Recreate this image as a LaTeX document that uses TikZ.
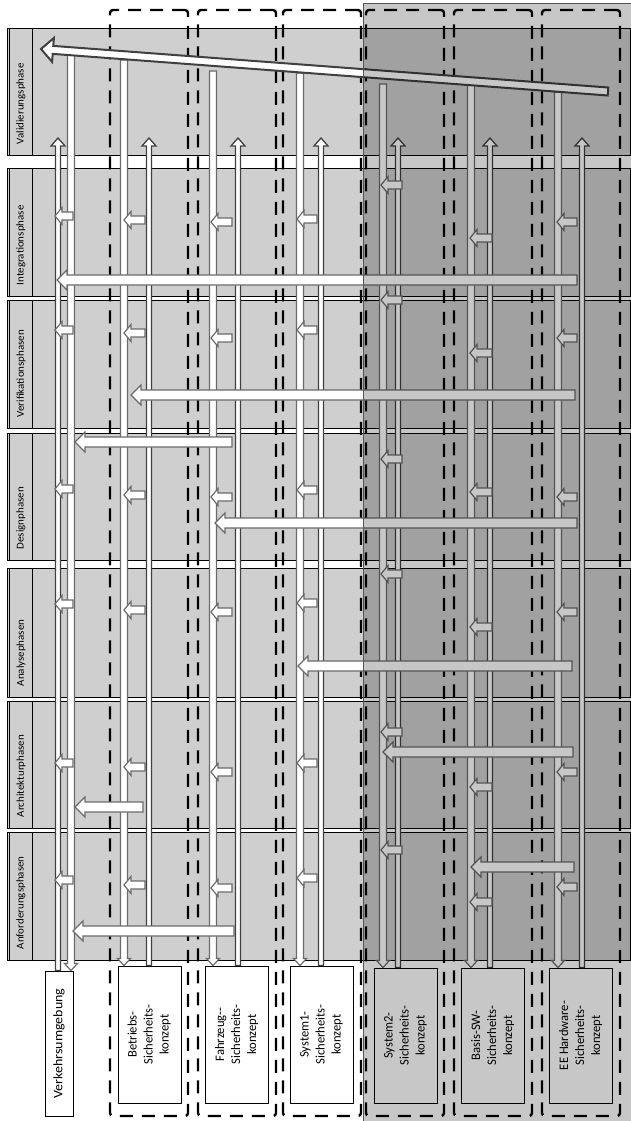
\documentclass[tikz,border=0pt]{standalone}
\usepackage{fontspec}
\setmainfont{Carlito}
\usepackage{graphicx}
\usetikzlibrary{calc}
\definecolor{rowgray}{gray}{0.81}
\definecolor{updark}{gray}{0.25}
\definecolor{arrgray}{gray}{0.42}
\definecolor{framegray}{gray}{0.33}
\newlength\fitw
% texts in the picture are stretched along their length
\newcommand\uptext[1]{\settowidth\fitw{Sicherheits-}\pgfmathsetmacro\fitscale{60pt/\fitw}%
  \rotatebox{90}{\scalebox{\fitscale}[1]{\begin{tabular}{@{}c@{}}#1\end{tabular}}}}
\newcommand\sidetext[1]{\settowidth\fitw{Validierungsphase}\pgfmathsetmacro\fitscale{81pt/\fitw}%
  \rotatebox{90}{\scalebox{\fitscale}[1]{#1}}}
% block arrow: [style]{from}{to}{shaft width}{head width}{head length}
\newcommand\blockarrow[6][]{%
  \path let \p1=($(#3)-(#2)$), \n1={atan2(\y1,\x1)}, \n2={veclen(\x1,\y1)} in
    \pgfextra{\xdef\baangle{\n1}\xdef\balength{\n2}};
  \draw[#1, shift={(#2)}, rotate=\baangle]
    (0,{-(#4)/2}) -- ({\balength-(#6)},{-(#4)/2}) -- ({\balength-(#6)},{-(#5)/2})
    -- (\balength,0) -- ({\balength-(#6)},{(#5)/2}) -- ({\balength-(#6)},{(#4)/2})
    -- (0,{(#4)/2}) -- cycle;}
\tikzset{
  rowbox/.style={draw=black, line width=1.2pt, fill=rowgray, inner sep=0pt},
  labelbox/.style={draw=black, line width=1pt, fill=rowgray, inner sep=0pt},
  labeltext/.style={inner sep=0pt, font=\fontsize{10.5}{12}\selectfont},
  grpbox/.style={draw=black, line width=2.4pt, dash pattern=on 13pt off 9pt, rounded corners=3pt, inner sep=0pt},
  conceptbox/.style={draw=black, line width=1pt, fill=white, inner sep=0pt, font=\fontsize{13}{16}\selectfont},
  uparr/.style={draw=updark, fill=white, line width=1.3pt},
  dnarr/.style={draw=arrgray, fill=white, line width=1.2pt},
  validarr/.style={draw=updark, fill=white, line width=2pt},
  shade/.style={fill=black, opacity=0.22}
}
\begin{document}
\begin{tikzpicture}[x=1pt, y=-1pt]
\useasboundingbox (0,0) rectangle (631,1121);
% phase rows
\foreach \name/\top/\bot/\txt in {val/28/155/Validierungsphase, int/168/296/Integrationsphase,
    ver/300/428/Verifikationsphasen, des/433/560/Designphasen, ana/568/697/Analysephasen,
    arc/701/828/Architekturphasen, anf/832/960/Anforderungsphasen} {
  \node[rowbox, anchor=north west, minimum width=623, minimum height={\bot-\top}] (\name) at (7,\top) {};
  \node[labelbox, anchor=north west, minimum width=23, minimum height={\bot-\top}] (\name-lbl) at (9,\top) {};
  \node[labeltext, anchor=south] (\name-txt) at ([yshift=11.5pt]\name-lbl.south) {\sidetext{\txt}};
}
% dashed groups
\foreach \xg/\name in {149/grp-betr, 237/grp-fahr, 322/grp-sys1, 405/grp-sys2, 493/grp-basis, 581/grp-ee}
  \node[grpbox, minimum width=78, minimum height=1106] (\name) at (\xg,563) {};
% concepts
\node[conceptbox, minimum width=28, minimum height=145] (verk) at (59,1043.5) {\rotatebox{90}{\resizebox{110pt}{\height}{Verkehrsumgebung}}};
\node[conceptbox, minimum width=63, minimum height=137] (betr) at (149.5,1034.5) {\uptext{Betriebs-\\Sicherheits-\\konzept}};
\node[conceptbox, minimum width=63, minimum height=137] (fahr) at (237,1034.5) {\uptext{Fahrzeug-{}-\\Sicherheits-\\konzept}};
\node[conceptbox, minimum width=63, minimum height=137] (sys1) at (321.5,1034.5) {\uptext{System1-\\Sicherheits-\\konzept}};
\node[conceptbox, minimum width=63, minimum height=135] (sys2) at (405.5,1035.5) {\uptext{System2-\\Sicherheits-\\konzept}};
\node[conceptbox, minimum width=63, minimum height=135] (basis) at (493,1035.5) {\uptext{Basis-SW-\\Sicherheits-\\konzept}};
\node[conceptbox, minimum width=63, minimum height=135] (ee) at (581,1035.5) {\uptext{EE Hardware-\\Sicherheits-\\konzept}};
% vertical arrows
\coordinate (verk-up) at (58,138);   \coordinate (verk-dn) at (71,52);
\coordinate (betr-up) at (149,138);  \coordinate (betr-dn) at (124,60);
\coordinate (fahr-up) at (238,138);  \coordinate (fahr-dn) at (213,71);
\coordinate (sys1-up) at (321,138);  \coordinate (sys1-dn) at (300,73);
\coordinate (sys2-up) at (398,138);  \coordinate (sys2-dn) at (383,84);
\coordinate (basis-up) at (490,138); \coordinate (basis-dn) at (471,84);
\coordinate (ee-up) at (582,138);    \coordinate (ee-dn) at (558,92);
\foreach \c in {verk,betr,fahr,sys1,sys2,basis,ee} {
  \blockarrow[uparr]{\c.north -| \c-up}{\c-up}{5}{14}{8}
  \blockarrow[dnarr]{\c-dn}{\c.north -| \c-dn}{7}{13}{7}
}
% validation
\coordinate (val-tail) at (608,91.5);
\coordinate (val-tip) at (41,49);
\blockarrow[validarr]{val-tail}{val-tip}{8}{24}{12}
% small arrows per phase
\foreach \c/\a/\b/\ys in {v/55/73/{216,330,489,604,763,880}, b/124/145/{220,333,495,610,767,885},
    f/211/232/{222,338,497,612,772,888}, s1/297/317/{219,330,490,603,763,878},
    s2/381/402/{185,300,459,574,732,850}, sw/470/492/{238,353,492,627,787,902},
    e/557/577/{222,338,497,612,772,887}} {
  \foreach \yy [count=\k] in \ys {
    \coordinate (\c-in\k-a) at (\b,\yy);
    \coordinate (\c-in\k-b) at (\a,\yy);
    \blockarrow[dnarr]{\c-in\k-a}{\c-in\k-b}{8}{17}{7}
  }
}
% long arrows
\foreach \i/\a/\b/\yy in {1/577/57/280, 2/575/131/395, 3/232/75/442, 4/577/215/523, 5/572/298/666,
    6/573/383/752, 7/143/75/807, 8/574/471/867, 9/234/73/931} {
  \coordinate (long\i-a) at (\a,\yy);
  \coordinate (long\i-b) at (\b,\yy);
  \blockarrow[dnarr]{long\i-a}{long\i-b}{10}{20}{10}
}
% hardware side
\fill[shade] (363,4) rectangle (640,1130);
\draw[framegray, line width=1pt] (363,1130) -- (363,4) -- (640,4);
\end{tikzpicture}
\end{document}
